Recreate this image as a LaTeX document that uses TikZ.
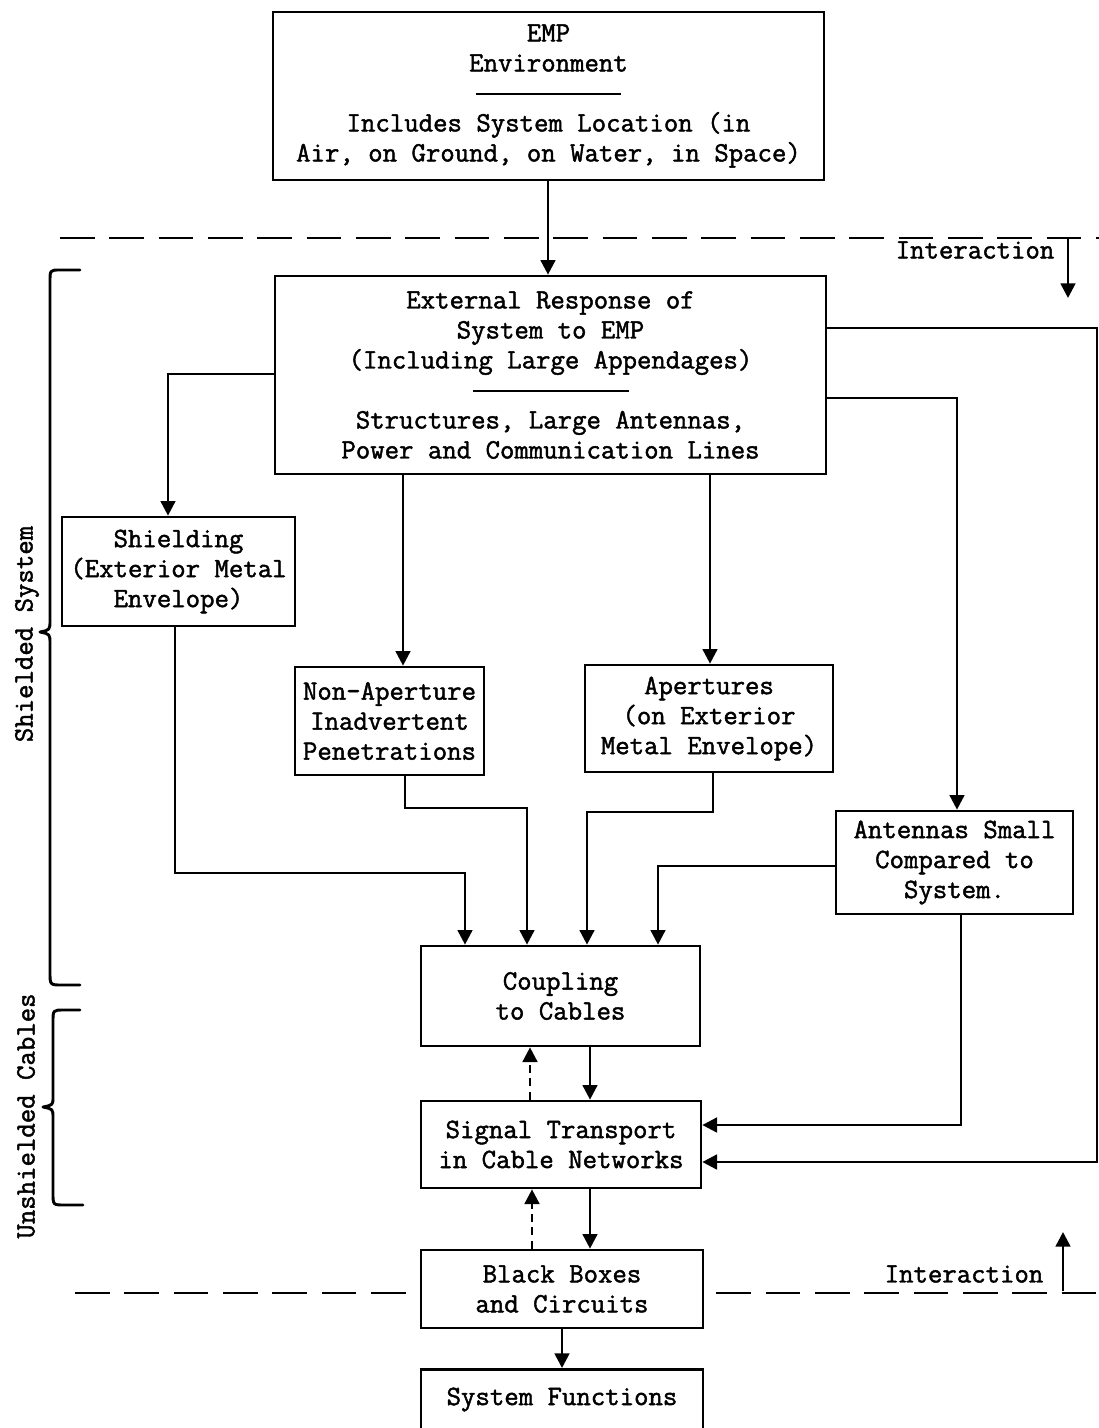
\documentclass[tikz,border=0pt]{standalone}
\usepackage{fontspec}
\setmonofont{Latin Modern Mono}[AutoFakeBold=1.6]
\usetikzlibrary{arrows.meta}
% box given by its corners (in picture units): name, x1, y1, x2, y2, text
\newcommand\pbox[6]{\node[box, minimum width={(#4-#2)*0.75pt}, minimum height={(#5-#3)*0.75pt}] (#1) at ({(#2+#4)/2},{(#3+#5)/2}) {#6};}
\newcommand\seprule[1]{\rule[5pt]{#1}{1.6pt}}
\begin{document}
\begin{tikzpicture}[x=0.75pt,y=-0.75pt,
  every node/.style={font=\ttfamily\bfseries\fontsize{21}{22.5}\selectfont},
  box/.style={draw, line width=2pt, fill=white, align=center, inner sep=1pt},
  link/.style={line width=2pt},
  arr/.style={link, -{Triangle[length=11pt,width=11pt]}},
  darr/.style={arr, dash pattern=on 6pt off 4pt},
  sepline/.style={line width=2pt, dash pattern=on 26pt off 11pt},
  brace/.style={line width=2.2pt, line join=round, line cap=round}]
\useasboundingbox (0,0) rectangle (1099,1428);

% interaction boundaries
\coordinate (d1a) at (60,238);   \coordinate (d1b) at (1099,238);
\coordinate (d2a) at (75,1293);  \coordinate (d2b) at (1099,1293);
\draw[sepline] (d1a) -- (d1b);
\draw[sepline] (d2a) -- (d2b);

% blocks
\pbox{env}{273}{12}{824}{180}{EMP\\Environment\\\seprule{109pt}\\Includes System Location (in\\Air, on Ground, on Water, in Space)}
\pbox{ext}{275}{276}{826}{474}{External Response of\\System to EMP\\(Including Large Appendages)\\\seprule{117pt}\\Structures, Large Antennas,\\Power and Communication Lines}
\pbox{shield}{62}{517}{295}{626}{Shielding\\(Exterior Metal\\Envelope)}
\pbox{nonap}{295}{667}{484}{775}{Non-Aperture\\Inadvertent\\Penetrations}
\pbox{apert}{585}{665}{833}{772}{Apertures\\(on Exterior\\Metal Envelope)}
\pbox{ant}{836}{811}{1073}{914}{Antennas Small\\Compared to\\System.}
\pbox{coup}{421}{946}{700}{1046}{Coupling\\to Cables}
\pbox{sig}{421}{1101}{701}{1188}{Signal Transport\\in Cable Networks}
\pbox{black}{421}{1250}{703}{1328}{Black Boxes\\and Circuits}
\node[box, minimum width={282*0.75pt}, minimum height={90*0.75pt}, anchor=north, text depth=27pt] (sysf) at (562,1368) {System Functions};

% side labels and braces
\node[rotate=90] (lshield) at (27,634) {Shielded System};
\node[rotate=90] (lunsh) at (26,1116) {Unshielded Cables};
\draw[brace] (80,270) -- (60,270) .. controls (50,270) .. (50,282) -- (50,620)
  .. controls (50,630) .. (40,632) .. controls (50,634) .. (50,644) -- (50,972)
  .. controls (50,985) .. (62,985) -- (80,985);
\draw[brace] (80,1010) -- (64,1010) .. controls (53,1010) .. (53,1022) -- (53,1097)
  .. controls (53,1105) .. (43,1107) .. controls (53,1109) .. (53,1118) -- (53,1193)
  .. controls (53,1205) .. (65,1205) -- (83,1205);

% interaction labels
\node (int1) at (975,250) {Interaction};
\node (int2) at (964,1274) {Interaction};
\coordinate (ia) at (1068,238); \coordinate (ib) at (1068,298);
\draw[arr] (ia) -- (ib);
\coordinate (ic) at (1063,1291); \coordinate (id) at (1063,1232);
\draw[arr] (ic) -- (id);

% connectors
\coordinate (c0) at (548,0);
\draw[arr] (env.south -| c0) -- (ext.north -| c0);
\coordinate (c1) at (168,374);
\draw[arr] (ext.west |- c1) -| (c1 |- shield.north);
\coordinate (c2) at (403,0);
\draw[arr] (ext.south -| c2) -- (nonap.north -| c2);
\coordinate (c3) at (710,0);
\draw[arr] (ext.south -| c3) -- (apert.north -| c3);
\coordinate (c4) at (957,398);
\draw[arr] (ext.east |- c4) -| (c4 |- ant.north);
\coordinate (c5a) at (1097,328); \coordinate (c5b) at (1097,1162);
\draw[arr] (ext.east |- c5a) -- (c5a) -- (c5b) -- (sig.east |- c5b);

\coordinate (s1) at (175,873); \coordinate (s2) at (465,873);
\draw[arr] (shield.south -| s1) -- (s1) -- (s2) -- (s2 |- coup.north);
\coordinate (n1) at (405,808); \coordinate (n2) at (527,808);
\draw[arr] (nonap.south -| n1) -- (n1) -- (n2) -- (n2 |- coup.north);
\coordinate (a1) at (713,812); \coordinate (a2) at (587,812);
\draw[arr] (apert.south -| a1) -- (a1) -- (a2) -- (a2 |- coup.north);
\coordinate (t1) at (658,866);
\draw[arr] (ant.west |- t1) -| (t1 |- coup.north);
\coordinate (t2) at (961,1125);
\draw[arr] (ant.south -| t2) |- (sig.east |- t2);

\coordinate (k1) at (590,0); \coordinate (k2) at (530,0); \coordinate (k3) at (532,0);
\coordinate (k4) at (562,0);
\draw[arr] (coup.south -| k1) -- (sig.north -| k1);
\draw[darr] (sig.north -| k2) -- (coup.south -| k2);
\draw[arr] (sig.south -| k1) -- (black.north -| k1);
\draw[darr] (black.north -| k3) -- (sig.south -| k3);
\draw[arr] (black.south -| k4) -- (sysf.north -| k4);
\end{tikzpicture}
\end{document}
